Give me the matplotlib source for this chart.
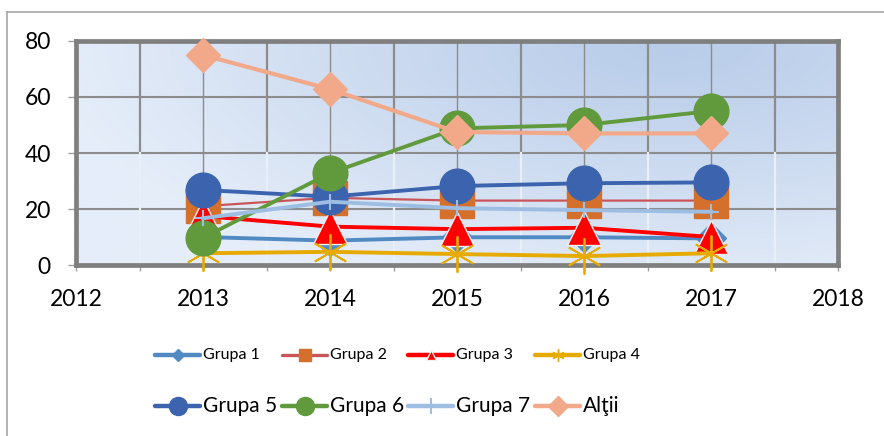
import numpy as np
import matplotlib
matplotlib.use("Agg")
import matplotlib.pyplot as plt
from matplotlib.lines import Line2D

plt.rcParams['font.family'] = ['Lato', 'DejaVu Sans']

years = [2013, 2014, 2015, 2016, 2017]
grupa1 = [10, 8.7, 9.9, 9.9, 9.5]
grupa2 = [21, 24, 23, 23, 23]
grupa3 = [17.5, 13.7, 12.8, 13.3, 10]
grupa4 = [4.2, 4.7, 3.9, 3.2, 4.2]
grupa5 = [26.8, 24.4, 28.2, 29.2, 29.5]
grupa6 = [9.7, 32.8, 48.8, 50, 55]
grupa7 = [16.7, 22.6, 20.3, 19.6, 19]
altii = [75, 62.8, 47.5, 47, 47]
labels = ['Grupa 1', 'Grupa 2', 'Grupa 3', 'Grupa 4',
          'Grupa 5', 'Grupa 6', 'Grupa 7', 'Alţii']
xticks = [2012, 2013, 2014, 2015, 2016, 2017, 2018]
yticks = [0, 20, 40, 60, 80]

W, H = 884, 436
fig = plt.figure(figsize=(W / 100, H / 100), dpi=100)
fig.patch.set_facecolor('white')

# outer chart border (left and top)
fig.add_artist(Line2D([7 / W, 7 / W], [0, 1 - 12 / H], transform=fig.transFigure,
                      color='#A6A6A6', lw=1.2))
fig.add_artist(Line2D([7 / W, 1], [1 - 12 / H, 1 - 12 / H], transform=fig.transFigure,
                      color='#A6A6A6', lw=1.2))

L, R, T, B = 76, 838, 41, 265
ax = fig.add_axes([L / W, 1 - B / H, (R - L) / W, (B - T) / H])
ax.set_xlim(2012, 2018)
ax.set_ylim(0, 80)

# gradient background
ny, nx = 120, 300
gx, gy = np.meshgrid(np.linspace(0, 1, nx), np.linspace(1, 0, ny))
d = np.sqrt(((gx - 0.78) * 1.3) ** 2 + ((gy - 1.0) * 0.9) ** 2)
t = np.clip(d / 1.05, 0, 1) ** 1.1
dark = np.array([184, 204, 233]) / 255
light = np.array([229, 237, 249]) / 255
img = dark[None, None, :] * (1 - t[..., None]) + light[None, None, :] * t[..., None]
ax.imshow(img, extent=[2012, 2018, 0, 80], aspect='auto', zorder=0, interpolation='bilinear')

# grid
for yv in [20, 40, 60]:
    ax.axhline(yv, color='#8C8C8C', lw=1.5, zorder=1)
for xv in years:
    ax.axvline(xv, color='#8C8C8C', lw=1.0, zorder=1)
for xv in np.arange(2012.5, 2018, 1.0):
    ax.axvline(xv, ymin=0.5, ymax=1, color='#8C8C8C', lw=1.6, zorder=1)
    ax.axvline(xv, ymin=0, ymax=0.5, color='#E9EFF9', lw=1.6, zorder=1)

styles = [
    dict(color='#5189C2', marker='D', ms=15, mfc='#5189C2', mec='#5189C2', lw=2.8),
    dict(color='#C9555A', marker='s', ms=24, mfc='#D4702C', mec='#D4702C', lw=1.6),
    dict(color='#FF0000', marker='^', ms=24, mfc='#FF0000', mec='#F0F0F0', mew=1.0, lw=2.8),
    dict(color='#E6AA00', marker=(6, 2, 0), ms=26, mfc='#E6AA00', mec='#E6AA00', mew=1.3, lw=2.8),
    dict(color='#3C64AE', marker='o', ms=25, mfc='#3C64AE', mec='#3C64AE', lw=2.8),
    dict(color='#619A3D', marker='o', ms=25, mfc='#619A3D', mec='#619A3D', lw=2.8),
    dict(color='#9DBDE3', marker='+', ms=12, mfc='#9DBDE3', mec='#9DBDE3', mew=1.5, lw=2.8),
    dict(color='#F2A98A', marker='D', ms=17, mfc='#F2A98A', mec='#F2A98A', lw=3.0),
]
series = [grupa1, grupa2, grupa3, grupa4, grupa5, grupa6, grupa7, altii]
for i, (vals, st) in enumerate(zip(series, styles)):
    ax.plot(years, vals, zorder=3 + i, clip_on=False, solid_joinstyle='round', **st)

# frame
for s in ax.spines.values():
    s.set_color('#7F7F7F')
    s.set_linewidth(3.4)
    s.set_zorder(2)

ax.set_xticks(xticks)
ax.set_xticks(np.arange(2012.5, 2018, 1.0), minor=True)
ax.set_yticks(yticks)
ax.tick_params(axis='x', which='both', length=4, width=1, color='#A0A0A0', pad=13,
               labelsize=16.5, direction='out')
ax.tick_params(axis='y', length=6, width=1, color='#A0A0A0', pad=12, labelsize=16.5)

# legend (manual)
row_y = [1 - 355 / H, 1 - 406 / H]
col_x = [155, 282, 408, 535]
leg_ms = [
    [dict(marker='D', ms=6), dict(marker='s', ms=8), dict(marker='^', ms=7), dict(marker=(6, 2, 0), ms=9, mew=1)],
    [dict(marker='o', ms=13), dict(marker='o', ms=13), dict(marker='+', ms=12, mew=1.5), dict(marker='D', ms=10)],
]
fsz = [11.5, 15]
for r in range(2):
    for c in range(4):
        k = r * 4 + c
        st = styles[k]
        x0 = col_x[c] / W
        x1 = (col_x[c] + 45) / W
        y = row_y[r]
        fig.add_artist(Line2D([x0, x1], [y, y], transform=fig.transFigure,
                              color=st['color'], lw=3.2 if k != 1 else 2.4,
                              solid_capstyle='round'))
        m = dict(leg_ms[r][c])
        fig.add_artist(Line2D([(x0 + x1) / 2], [y], transform=fig.transFigure,
                              linestyle='none', mfc=st['mfc'], mec=st['mec'], **m))
        fig.text((col_x[c] + 48) / W, y, labels[k], fontsize=fsz[r],
                 va='center', ha='left', color='#000000')

fig.savefig('out.png', dpi=100)
